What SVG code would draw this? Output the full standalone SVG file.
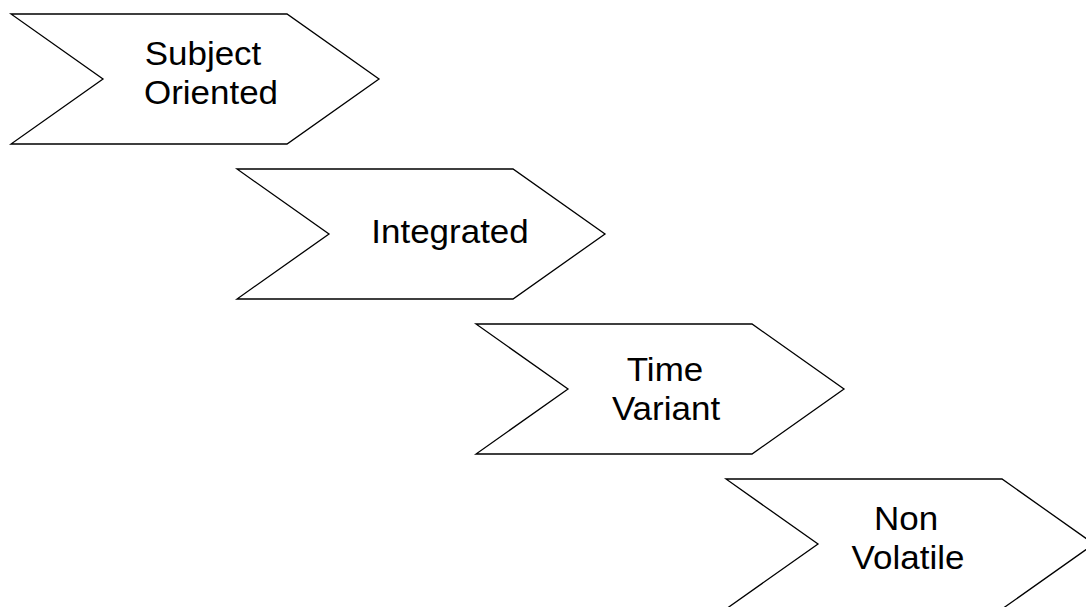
<svg xmlns="http://www.w3.org/2000/svg" width="1086" height="607" viewBox="0 0 1086 607">
  <style>
    .chev { fill: #ffffff; stroke: #000000; stroke-width: 1.3; stroke-linejoin: miter; }
    .lbl { font-family: "Liberation Sans", Arial, sans-serif; font-size: 33px; fill: #000000; text-anchor: middle; }
  </style>
  <defs>
    <!-- chevron: 368 wide, 130 tall, 92 deep notch and point -->
    <path id="chevron" d="M0,0 L276,0 L368,65 L276,130 L0,130 L92,65 Z"/>
  </defs>
  <rect width="1086" height="607" fill="#ffffff"/>

  <g id="subject-oriented">
    <use href="#chevron" class="chev" x="11" y="14"/>
    <text class="lbl" transform="translate(203,64.5) scale(1.06,1)">Subject</text>
    <text class="lbl" transform="translate(211,104) scale(1.06,1)">Oriented</text>
  </g>

  <g id="integrated">
    <use href="#chevron" class="chev" x="237" y="169"/>
    <text class="lbl" transform="translate(450,243) scale(1.06,1)">Integrated</text>
  </g>

  <g id="time-variant">
    <use href="#chevron" class="chev" x="476" y="324"/>
    <text class="lbl" transform="translate(665,381) scale(1.06,1)">Time</text>
    <text class="lbl" transform="translate(666,420) scale(1.06,1)">Variant</text>
  </g>

  <g id="non-volatile">
    <use href="#chevron" class="chev" x="726" y="479"/>
    <text class="lbl" transform="translate(906,530) scale(1.06,1)">Non</text>
    <text class="lbl" transform="translate(908,569) scale(1.06,1)">Volatile</text>
  </g>

  <g id="connectors"></g>
</svg>
